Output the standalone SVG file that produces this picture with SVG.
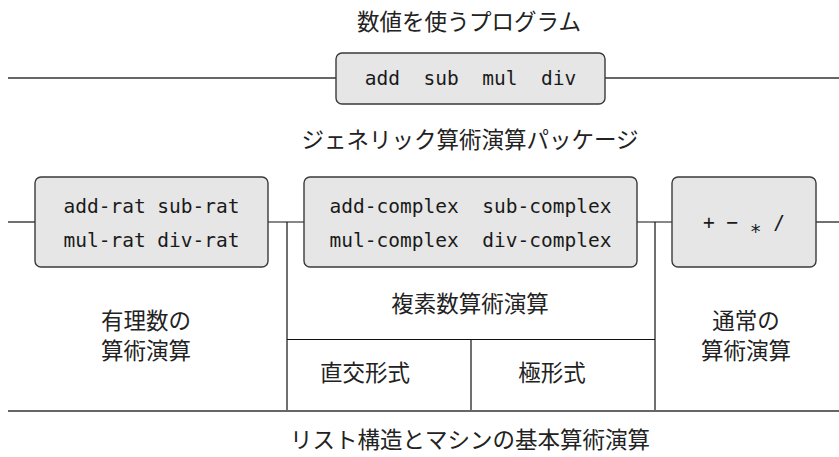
<svg xmlns="http://www.w3.org/2000/svg" width="839" height="457" viewBox="0 0 839 457">
<style>
.bg{fill:#ffffff}
.box{fill:#e6e6e6;stroke:#3a3a3a;stroke-width:1.4}
.mono{font-family:"DejaVu Sans Mono","Liberation Mono",monospace;font-size:19.5px;fill:#1a1a1a;text-anchor:middle}
.jp{font-family:"Noto Sans CJK JP","Noto Sans CJK SC",sans-serif;font-size:22.5px;fill:#222;text-anchor:middle}
.layer{stroke:#666;stroke-width:2;fill:none}
.conn{stroke:#111;stroke-width:1.2;fill:none}
</style>
<rect class="bg" x="0" y="0" width="839" height="457"/>
<g id="connectors">
  <line class="layer" x1="8" y1="78" x2="336" y2="78"/>
  <line class="layer" x1="605" y1="78" x2="839" y2="78"/>
  <line class="conn" x1="8" y1="222" x2="35" y2="222"/>
  <line class="conn" x1="268" y1="222" x2="304" y2="222"/>
  <line class="conn" x1="637" y1="222" x2="672" y2="222"/>
  <line class="conn" x1="816" y1="222" x2="839" y2="222"/>
  <line class="conn" x1="287" y1="222" x2="287" y2="411"/>
  <line class="conn" x1="655" y1="222" x2="655" y2="411"/>
  <line class="conn" x1="287" y1="339.5" x2="655" y2="339.5"/>
  <line class="conn" x1="471" y1="339.5" x2="471" y2="411"/>
  <line class="layer" x1="8" y1="411" x2="839" y2="411"/>
</g>
<g id="title"><text class="jp" x="469" y="30">数値を使うプログラム</text></g>
<g id="generic-ops">
  <rect class="box" x="336" y="53" width="269" height="51" rx="6"/>
  <text class="mono" x="470.5" y="85" xml:space="preserve">add  sub  mul  div</text>
</g>
<g id="generic-label"><text class="jp" x="470" y="148">ジェネリック算術演算パッケージ</text></g>
<g id="rat-ops">
  <rect class="box" x="35" y="177" width="233" height="90" rx="6"/>
  <text class="mono" x="151.5" y="213">add-rat sub-rat</text>
  <text class="mono" x="151.5" y="247">mul-rat div-rat</text>
</g>
<g id="complex-ops">
  <rect class="box" x="304" y="177" width="333" height="90" rx="6"/>
  <text class="mono" x="470.5" y="213" xml:space="preserve">add-complex  sub-complex</text>
  <text class="mono" x="470.5" y="247" xml:space="preserve">mul-complex  div-complex</text>
</g>
<g id="ordinary-ops">
  <rect class="box" x="672" y="177" width="144" height="90" rx="6"/>
  <text class="mono" x="744" y="229" xml:space="preserve">+ − <tspan dy="9">*</tspan><tspan dy="-9"> /</tspan></text>
</g>
<g id="rational-label">
  <text class="jp" x="146" y="329">有理数の</text>
  <text class="jp" x="146" y="359">算術演算</text>
</g>
<g id="complex-label"><text class="jp" x="470" y="312">複素数算術演算</text></g>
<g id="rectangular-label"><text class="jp" x="365" y="381">直交形式</text></g>
<g id="polar-label"><text class="jp" x="552" y="381">極形式</text></g>
<g id="ordinary-label">
  <text class="jp" x="746" y="329">通常の</text>
  <text class="jp" x="746" y="359">算術演算</text>
</g>
<g id="primitive-label"><text class="jp" x="470" y="448">リスト構造とマシンの基本算術演算</text></g>
</svg>
